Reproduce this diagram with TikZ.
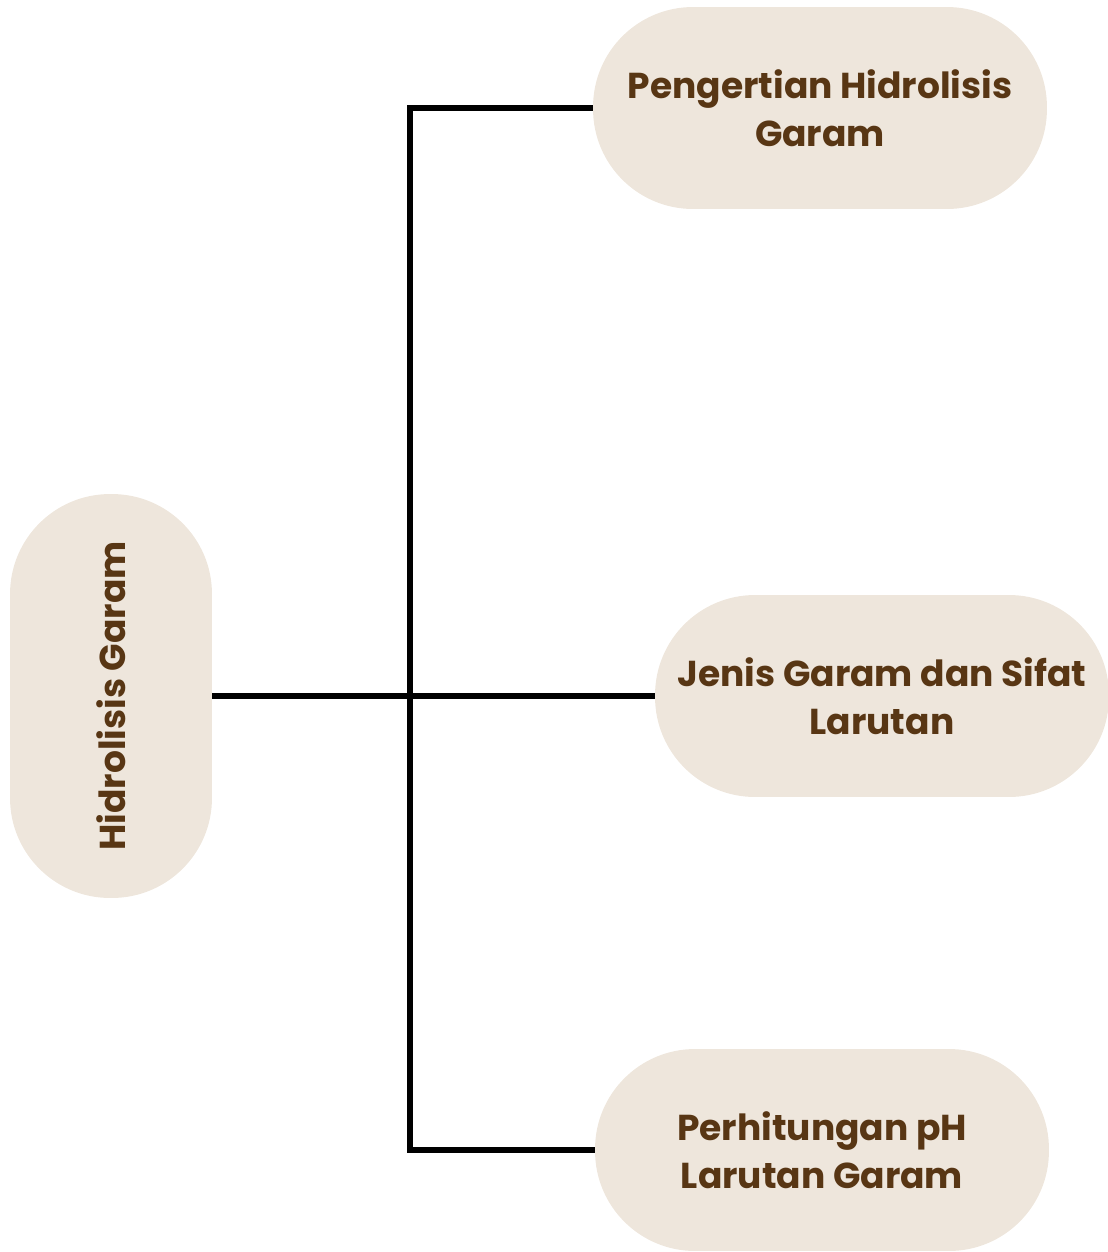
\documentclass[tikz,border=0pt]{standalone}
\usepackage{fontspec}
\setmainfont{Poppins}
\usepackage{tikz}
\usetikzlibrary{positioning}
\definecolor{pillfill}{HTML}{EEE6DC}
\definecolor{pilltext}{HTML}{583614}

\begin{document}
\begin{tikzpicture}[x=0.02cm,y=-0.02cm,
    pill/.style={fill=pillfill, text=pilltext, font=\bfseries\fontsize{20.5}{27.5}\selectfont,
        align=center, rounded corners=2cm, minimum width=9.08cm, minimum height=4.04cm, inner sep=0pt},
    link/.style={line width=3.8pt}]
    \useasboundingbox (0,0) rectangle (1108,1252);

    % left topic, standing on its side
    \node[pill, rotate=90, minimum width=8.08cm] (root) at (111,696) {Hidrolisis Garam};

    \node[pill] (pengertian) at (820,108) {Pengertian Hidrolisis\\Garam};
    \node[pill] (jenis) at (882,696) {Jenis Garam dan Sifat\\Larutan};
    \node[pill] (ph) at (822,1150) {Perhitungan pH\\Larutan Garam};

    \coordinate (trunktop) at (410,108);
    \coordinate (trunkbot) at (410,1150);

    \draw[link] (pengertian.west) -- (trunktop) -- (trunkbot) -- (ph.west);
    \draw[link] (root.south) -- (jenis.west);
    
\end{tikzpicture}
\end{document}
